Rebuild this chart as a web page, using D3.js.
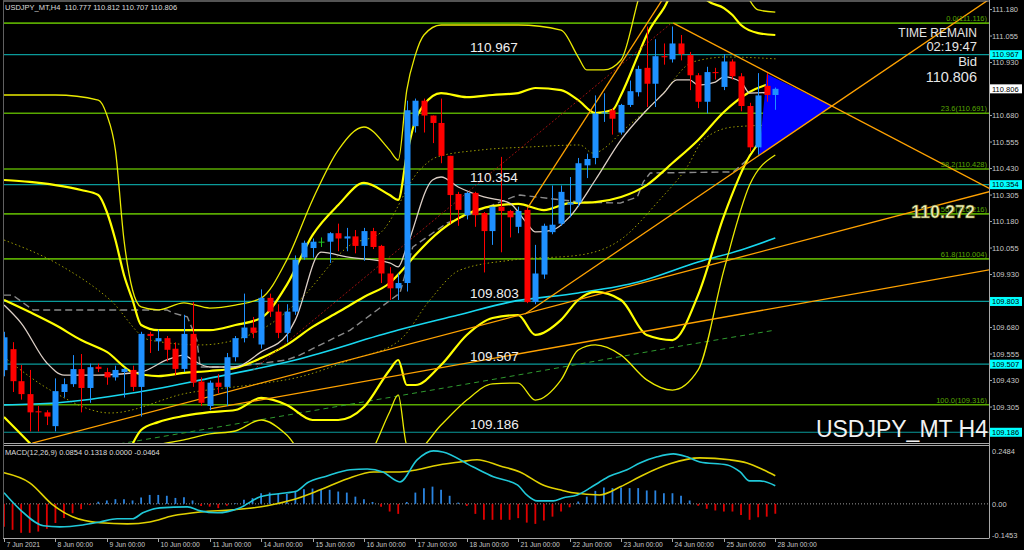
<!DOCTYPE html>
<html><head><meta charset="utf-8">
<script src="https://cdn.jsdelivr.net/npm/d3@7"></script>
<style>
html,body{margin:0;padding:0;background:#000;overflow:hidden}
svg{display:block}
text{font-family:"Liberation Sans",Arial,sans-serif}
</style></head><body>
<svg id="c" width="1024" height="550"></svg>
<script>
// ---------------- DATA ----------------
const dayLabels = ["7 Jun 2021","8 Jun 00:00","9 Jun 00:00","10 Jun 00:00","11 Jun 00:00","14 Jun 00:00","15 Jun 00:00","16 Jun 00:00","17 Jun 00:00","18 Jun 00:00","21 Jun 00:00","22 Jun 00:00","23 Jun 00:00","24 Jun 00:00","25 Jun 00:00","28 Jun 00:00"];
const opens  = [109.479,109.578,109.427,109.366,109.285,109.28,109.215,109.376,109.413,109.484,109.395,109.495,109.47,109.445,109.47,109.48,109.40,109.65,109.615,109.63,109.58,109.485,109.65,109.425,109.31,109.42,109.40,109.54,109.63,109.68,109.60,109.82,109.755,109.655,109.755,110.01,110.055,110.085,110.085,110.125,110.10,110.11,110.065,110.135,110.065,109.935,109.865,109.89,110.63,110.75,110.68,110.645,110.49,110.31,110.21,110.315,110.22,110.135,110.25,110.23,110.155,110.235,109.80,109.93,110.13,110.17,110.26,110.27,110.445,110.48,110.69,110.705,110.60,110.73,110.79,110.905,110.83,110.96,110.945,111.02,110.965,110.87,110.745,110.885,110.815,110.935,110.865,110.725,110.53,110.82,110.777];
const highs  = [109.66,109.611,109.503,109.48,109.31,109.29,109.44,109.44,109.55,109.555,109.51,109.51,109.49,109.50,109.49,109.50,109.66,109.66,109.67,109.64,109.61,109.74,109.80,109.445,109.43,109.46,109.56,109.64,109.84,109.73,109.86,109.84,109.79,109.79,110.02,110.09,110.10,110.105,110.13,110.17,110.15,110.14,110.15,110.15,110.07,109.965,109.935,110.75,110.76,110.76,110.68,110.76,110.49,110.32,110.32,110.32,110.225,110.25,110.485,110.235,110.25,110.245,110.07,110.17,110.35,110.35,110.39,110.48,110.50,110.775,110.785,110.715,110.735,110.845,110.915,111.10,111.04,111.02,111.10,111.06,110.98,110.88,110.91,110.905,110.97,110.945,110.88,110.74,110.88,110.88,110.812];
const lows   = [109.45,109.376,109.34,109.19,109.19,109.22,109.19,109.35,109.40,109.28,109.325,109.47,109.41,109.43,109.35,109.38,109.26,109.56,109.57,109.52,109.455,109.47,109.40,109.31,109.29,109.37,109.31,109.52,109.61,109.63,109.58,109.73,109.63,109.61,109.74,110.00,110.01,110.06,109.985,110.04,110.04,110.03,109.995,110.05,109.89,109.81,109.81,109.85,110.60,110.60,110.55,110.455,110.17,110.16,110.19,110.155,109.94,110.07,110.035,110.105,110.125,109.795,109.79,109.91,110.12,110.16,110.20,110.25,110.385,110.45,110.65,110.59,110.59,110.72,110.77,110.72,110.72,110.92,110.93,110.94,110.80,110.715,110.69,110.85,110.80,110.85,110.70,110.51,110.495,110.745,110.707];
const closes = [109.634,109.427,109.366,109.28,109.28,109.26,109.38,109.413,109.484,109.395,109.493,109.485,109.445,109.48,109.485,109.40,109.65,109.64,109.63,109.575,109.485,109.65,109.42,109.325,109.42,109.40,109.54,109.63,109.68,109.655,109.82,109.755,109.655,109.755,110.00,110.08,110.085,110.085,110.125,110.10,110.11,110.065,110.135,110.06,109.935,109.865,109.89,110.705,110.75,110.68,110.645,110.49,110.305,110.235,110.315,110.21,110.135,110.25,110.23,110.20,110.23,109.80,109.935,110.16,110.165,110.32,110.27,110.455,110.475,110.69,110.695,110.665,110.73,110.795,110.90,110.83,110.96,110.955,111.02,110.97,110.87,110.745,110.885,110.88,110.935,110.865,110.725,110.53,110.775,110.777,110.806];

// indicator lines: [bar, price]
const bbMid = [[0,109.810],[3,109.753],[6,109.692],[9,109.621],[12,109.565],[15,109.470],[18,109.451],[21,109.466],[24,109.475],[27,109.489],[30,109.536],[33,109.598],[36,109.683],[39,109.753],[42,109.824],[45,109.890],[47,109.975],[48,110.022],[51,110.140],[54,110.216],[57,110.253],[60,110.263],[63,110.234],[66,110.267],[69,110.272],[72,110.296],[75,110.352],[78,110.456],[81,110.565],[84,110.697],[87,110.791],[90,110.838]];
const bbUp2 = [[0,110.376],[3,110.367],[6,110.352],[9,110.329],[11,110.305],[12,110.225],[13,110.093],[14,109.928],[15,109.810],[16,109.692],[18,109.668],[21,109.668],[24,109.668],[27,109.692],[30,109.725],[33,109.881],[36,110.116],[39,110.258],[42,110.362],[45,110.305],[46,110.282],[47,110.494],[48,110.659],[49,110.730],[51,110.786],[54,110.767],[57,110.777],[60,110.786],[62,110.810],[65,110.800],[67,110.753],[69,110.692],[71,110.706],[72,110.777],[74,110.966],[75,111.060],[77,111.187],[79,111.319],[81,111.296],[82,111.225],[84,111.187],[85,111.154],[86,111.107],[88,111.069],[90,111.060]];
const bbLo2 = [[0,109.258],[3,109.135],[6,109.008],[11,108.961],[14,109.055],[16,109.197],[18,109.234],[21,109.263],[24,109.281],[27,109.291],[30,109.348],[33,109.315],[36,109.244],[39,109.244],[42,109.305],[45,109.480],[46,109.527],[47,109.409],[48,109.409],[51,109.503],[54,109.645],[57,109.725],[60,109.739],[62,109.645],[65,109.716],[67,109.810],[69,109.848],[72,109.810],[75,109.645],[78,109.621],[81,109.834],[84,110.206],[87,110.489],[90,110.612]];
const bbUp3 = [[0,110.777],[6,110.777],[11,110.753],[12,110.683],[13,110.517],[14,110.093],[15,109.857],[16,109.777],[18,109.763],[21,109.796],[24,109.772],[27,109.786],[30,109.819],[33,109.999],[36,110.282],[39,110.517],[42,110.626],[45,110.517],[46,110.470],[47,110.800],[48,110.966],[49,111.060],[51,111.107],[60,111.107],[65,111.083],[67,110.956],[68,110.895],[70,110.895],[72,110.942],[74,111.225],[75,111.367],[86,111.319],[87,111.225],[88,111.178],[90,111.168]];
const bbLo3 = [[0,108.84],[6,108.78],[12,108.72],[14,108.85],[16,109.093],[18,109.126],[21,109.150],[24,109.178],[27,109.192],[30,109.244],[33,109.173],[36,109.02],[39,108.99],[42,109.04],[45,109.282],[46,109.362],[47,109.125],[48,109.10],[51,109.220],[54,109.338],[57,109.414],[60,109.418],[62,109.338],[65,109.433],[67,109.574],[69,109.598],[72,109.550],[75,109.433],[78,109.385],[81,109.480],[84,109.951],[87,110.352],[90,110.494]];
const whiteMA = [[0,109.786],[2,109.701],[5,109.513],[7,109.456],[11,109.456],[15,109.466],[16,109.470],[19,109.527],[21,109.550],[22,109.527],[24,109.494],[27,109.494],[30,109.565],[33,109.645],[34,109.716],[37,110.036],[40,110.013],[45,109.985],[46,109.966],[47,110.061],[50,110.376],[51,110.390],[53,110.343],[56,110.296],[59,110.267],[61,110.173],[62,110.131],[64,110.140],[66,110.202],[69,110.376],[72,110.565],[75,110.706],[77,110.786],[78.5,110.848],[80,110.848],[81,110.824],[83,110.838],[84,110.862],[86,110.838],[87,110.786],[90,110.791]];
const cyanMA = [[0,109.315],[6,109.324],[15,109.371],[23,109.433],[34,109.527],[46,109.668],[53,109.739],[59,109.800],[67,109.843],[74,109.895],[81,109.989],[86,110.046],[90,110.102]];
const greenMA = [[0,109.04],[14,109.135],[34.5,109.277],[58,109.442],[81,109.607],[90,109.668]];
const dotUp = [[0,110.093],[6.5,109.975],[12.4,109.810],[17,109.621],[22.9,109.598],[29.9,109.668],[34.5,109.810],[40.4,110.069],[43.9,110.126],[48.5,110.423],[50.5,110.484],[55.5,110.517],[61.4,110.532],[67.2,110.541],[68.7,110.503],[72.7,110.626],[76.5,110.767],[80.4,110.933],[84.4,110.956],[90.2,110.947]];
const dotLo = [[0,109.541],[5.4,109.385],[12.4,109.277],[21.4,109.371],[28.7,109.409],[34.5,109.447],[40.4,109.527],[46.2,109.621],[49.7,109.810],[53.2,109.951],[59.4,109.999],[67.2,110.022],[71.9,110.093],[76.5,110.282],[79.7,110.437],[81.6,110.565],[85.1,110.626],[89.7,110.635]];
const greyStep = [[0,109.833],[1,109.833],[3.4,109.763],[19,109.763],[19.7,109.749],[21.4,109.730],[22.5,109.621],[22.9,109.494],[26.7,109.494],[33,109.527],[34.5,109.550],[40.4,109.668],[46.2,109.843],[47.7,110.060],[51.7,110.173],[59.4,110.296],[60.2,110.305],[67.2,110.272],[71.9,110.267],[73.9,110.296],[74.6,110.367],[75.4,110.409],[85.1,110.414],[86.7,110.470],[88.2,110.565],[90.2,110.635]];

// trend lines [bar, price] anchor pairs
const trendRays = [[[78.1,111.116],[96.6,110.725]],[[60.8,109.744],[96.6,110.725]],[[61.1,110.244],[76.8,111.225]],[[3.3,109.135],[114.8,110.319]],[[24,109.296],[114.8,109.951]]];
const redDotted = [[29.1,109.480],[77.9,111.117]];
const triangle = [[89.0,110.876],[96.6,110.725],[88.1,110.494]];

const fibPct = ["0.0","23.6","38.2","50.0","61.8","100.0"];
const fibPrice = [111.116,110.691,110.428,110.216,110.004,109.316];
const levels = [110.967,110.354,109.803,109.507,109.186];
const priceTicks = [111.180,111.055,110.930,110.680,110.555,110.430,110.305,110.180,110.055,109.930,109.680,109.555,109.430,109.305];
const macdTicks = ["0.2484","0.00","-0.1453"];
const macdTickVals = [0.2484,0,-0.1453];

const macdMain = [[0,0.052],[1.9,-0.028],[4.6,-0.103],[6.5,-0.108],[9.2,-0.099],[11.2,-0.085],[13.2,-0.070],[15,-0.070],[16.2,-0.042],[18.2,-0.019],[21.4,-0.014],[22.9,-0.033],[24.9,-0.042],[27.5,-0.019],[29.9,0.033],[33,0.052],[34.2,0.061],[35.4,0.099],[37.7,0.131],[40.4,0.160],[42.4,0.164],[44.2,0.150],[46.2,0.103],[48.2,0.207],[50.1,0.249],[51.2,0.244],[54.7,0.174],[57.1,0.127],[59.9,0.089],[61,0.042],[62.2,0.014],[64.1,0.014],[65.2,0.028],[66.9,0.042],[68.4,0.075],[69.5,0.103],[70.7,0.131],[72.7,0.160],[74.2,0.192],[76.2,0.221],[78.1,0.235],[79.7,0.221],[81.2,0.197],[84.4,0.183],[85.9,0.150],[87,0.108],[88.2,0.108],[90,0.0854]];
const macdSignal = [[0,0.146],[3,0.099],[5.7,-0.005],[8,-0.061],[11.2,-0.089],[14.4,-0.094],[17,-0.085],[19.7,-0.056],[22.9,-0.038],[26.7,-0.028],[30.7,-0.009],[33.7,0.019],[36.9,0.066],[40,0.117],[43.1,0.150],[46.2,0.150],[48.2,0.160],[50.1,0.178],[53.2,0.197],[55.2,0.207],[57.9,0.178],[60.2,0.150],[62.9,0.089],[64.9,0.066],[66.4,0.052],[69.5,0.042],[71.9,0.080],[74.6,0.136],[77.7,0.188],[81.2,0.216],[84.7,0.207],[86.7,0.192],[88.6,0.160],[90,0.1318]];
const macdHist = [-0.108,-0.122,-0.136,-0.136,-0.130,-0.117,-0.090,-0.066,-0.044,-0.025,-0.006,0.010,0.016,0.022,0.022,0.016,0.030,0.042,0.042,0.038,0.028,0.031,0.016,-0.010,-0.013,-0.020,-0.009,0.003,0.019,0.027,0.050,0.053,0.047,0.047,0.058,0.069,0.072,0.069,0.066,0.058,0.053,0.034,0.022,0.009,-0.013,-0.036,-0.047,0.009,0.053,0.073,0.081,0.066,0.038,0.006,-0.010,-0.047,-0.075,-0.075,-0.075,-0.075,-0.067,-0.088,-0.094,-0.078,-0.060,-0.036,-0.016,0.011,0.034,0.061,0.077,0.074,0.077,0.074,0.074,0.063,0.063,0.050,0.050,0.038,0.016,-0.009,-0.023,-0.031,-0.036,-0.036,-0.052,-0.075,-0.063,-0.060,-0.0464];

// ---------------- DRAW ----------------
const svg = d3.select('#c');
svg.append('rect').attr('width',1024).attr('height',550).attr('fill','#000');
const L=3, R=989, T=1, B=443, MT=445, MB=538;
const x = d3.scaleLinear().domain([0,90]).range([4,775.3]);
const y = d3.scaleLinear().domain([111.225,109.1354]).range([0,443]);
const ym = d3.scaleLinear().domain([0.2484,-0.1453]).range([451,534.8]);

const defs = svg.append('defs');
defs.append('clipPath').attr('id','cm').append('rect').attr('x',L).attr('y',T).attr('width',R-L).attr('height',B-T);
defs.append('clipPath').attr('id','cd').append('rect').attr('x',L).attr('y',MT).attr('width',R-L).attr('height',MB-MT);
const gm = svg.append('g').attr('clip-path','url(#cm)');
const gd = svg.append('g').attr('clip-path','url(#cd)');

// horizontal levels
const fibColor = '#58a800';
fibPrice.forEach(p=>{
  gm.append('line').attr('x1',L).attr('x2',R).attr('y1',y(p)).attr('y2',y(p)).attr('stroke',fibColor).attr('stroke-width',1.6);
});
levels.forEach(p=>{
  gm.append('line').attr('x1',L).attr('x2',R).attr('y1',y(p)).attr('y2',y(p)).attr('stroke','#0a9a9a').attr('stroke-width',1.2);
});

const lineP = (c)=>d3.line().x(d=>x(d[0])).y(d=>y(d[1])).curve(c||d3.curveMonotoneX);
function drawLine(data,color,w,dash,curve){
  const p = gm.append('path').attr('d',lineP(curve)(data)).attr('fill','none').attr('stroke',color).attr('stroke-width',w).attr('stroke-linejoin','round');
  if(dash) p.attr('stroke-dasharray',dash);
}
drawLine(greenMA,'#2f9a2f',1,'5,4');
drawLine(dotUp,'#9a9a00',1,'1.5,2.5');
drawLine(dotLo,'#9a9a00',1,'1.5,2.5');
drawLine(greyStep,'#8a8a8a',1.4,'7,4',d3.curveLinear);
drawLine(cyanMA,'#18d8f0',1.6);
drawLine(bbUp3,'#eaea00',1.3);
drawLine(bbLo3,'#eaea00',1.3);
drawLine(bbUp2,'#ffff00',2.2);
drawLine(bbLo2,'#ffff00',2.2);
drawLine(bbMid,'#ffff00',2.2);
drawLine(whiteMA,'#dccfc6',1.3);

// red dotted trend
gm.append('line').attr('x1',x(redDotted[0][0])).attr('y1',y(redDotted[0][1])).attr('x2',x(redDotted[1][0])).attr('y2',y(redDotted[1][1]))
  .attr('stroke','#9a1010').attr('stroke-width',1).attr('stroke-dasharray','2,2');

// triangle
gm.append('polygon').attr('points',triangle.map(d=>x(d[0])+','+y(d[1])).join(' ')).attr('fill','#0000ff');

// orange rays
const bEnd = x.invert(R+2);
trendRays.forEach(t=>{
  const [a,b]=t;
  const pe = a[1]+(b[1]-a[1])*(bEnd-a[0])/(b[0]-a[0]);
  gm.append('line').attr('x1',x(a[0])).attr('y1',y(a[1])).attr('x2',x(bEnd)).attr('y2',y(pe))
    .attr('stroke','#ffa200').attr('stroke-width',1.3);
});

// candles
const bull='#1e90ff', bear='#ff0000', doji='#20c020';
opens.forEach((o,i)=>{
  const c=closes[i];
  const col = Math.abs(c-o)<0.0005 ? doji : (c>o?bull:bear);
  const cx = Math.round(x(i))+0.5;
  gm.append('line').attr('x1',cx).attr('x2',cx).attr('y1',y(highs[i])).attr('y2',y(lows[i])).attr('stroke',col).attr('stroke-width',1);
  const top=y(Math.max(o,c)), bot=y(Math.min(o,c));
  gm.append('rect').attr('x',cx-3).attr('y',top).attr('width',6).attr('height',Math.max(1,bot-top)).attr('fill',col);
});

// texts on main chart
levels.forEach((p,i)=>{
  gm.append('text').attr('x',470).attr('y',y(p)-3).attr('fill','#f0f0f0').attr('font-size',13.5).text(p.toFixed(3));
});
fibPrice.forEach((p,i)=>{
  gm.append('text').attr('x',987).attr('y',y(p)-2).attr('text-anchor','end').attr('fill',fibColor).attr('font-size',7.5)
    .text(fibPct[i]+'('+p.toFixed(3)+')');
});
gm.append('text').attr('x',975).attr('y',218).attr('text-anchor','end').attr('fill','#f4f4bc').attr('font-size',18).attr('font-weight','bold')
  .attr('stroke','#6a6a20').attr('stroke-width',0.6).text('110.272');
const tr = [['TIME REMAIN',12,36.5],['02:19:47',13,51],['Bid',13,66],['110.806',14.5,82]];
tr.forEach(t=>{
  gm.append('text').attr('x',977).attr('y',t[2]).attr('text-anchor','end').attr('fill','#e6e6e6').attr('font-size',t[1]).text(t[0]);
});
svg.append('text').attr('x',5).attr('y',10).attr('fill','#dcdcdc').attr('font-size',7.5).style('white-space','pre')
  .text('USDJPY_MT,H4  110.777 110.812 110.707 110.806');

// MACD panel
gd.append('line').attr('x1',L).attr('x2',R).attr('y1',ym(0)).attr('y2',ym(0)).attr('stroke','#9a9a9a').attr('stroke-dasharray','1,2');
macdHist.forEach((h,i)=>{
  gd.append('line').attr('x1',x(i)).attr('x2',x(i)).attr('y1',ym(0)).attr('y2',ym(h))
    .attr('stroke',h>=0?'#2a84e0':'#e00000').attr('stroke-width',1.8);
});
const lineM = d3.line().x(d=>x(d[0])).y(d=>ym(d[1])).curve(d3.curveMonotoneX);
gd.append('path').attr('d',lineM(macdSignal)).attr('fill','none').attr('stroke','#e0d000').attr('stroke-width',1.6);
gd.append('path').attr('d',lineM(macdMain)).attr('fill','none').attr('stroke','#20c8d8').attr('stroke-width',1.6);
svg.append('text').attr('x',5).attr('y',455).attr('fill','#dcdcdc').attr('font-size',7.5).text('MACD(12,26,9) 0.0854 0.1318 0.0000 -0.0464');

// frames
const frame='#a8a8a8';
svg.append('line').attr('x1',L).attr('x2',R).attr('y1',T).attr('y2',T).attr('stroke',frame);
svg.append('line').attr('x1',L).attr('x2',R).attr('y1',B+0.5).attr('y2',B+0.5).attr('stroke',frame);
svg.append('line').attr('x1',L).attr('x2',R).attr('y1',MT+0.5).attr('y2',MT+0.5).attr('stroke',frame);
svg.append('line').attr('x1',L).attr('x2',R).attr('y1',MB+0.5).attr('y2',MB+0.5).attr('stroke',frame);
svg.append('line').attr('x1',L+0.5).attr('x2',L+0.5).attr('y1',T).attr('y2',MB).attr('stroke','#606060');
svg.append('line').attr('x1',R+0.5).attr('x2',R+0.5).attr('y1',0).attr('y2',MB+0.5).attr('stroke',frame);

// symbol caption (after frames so the underscore stays visible)
svg.append('text').attr('x',988).attr('y',437).attr('text-anchor','end').attr('fill','#f2f2f2').attr('font-size',23).text('USDJPY_MT H4');

// right axis
const ax = svg.append('g');
priceTicks.forEach(p=>{
  ax.append('line').attr('x1',R).attr('x2',R+3).attr('y1',y(p)).attr('y2',y(p)).attr('stroke',frame);
  ax.append('text').attr('x',992).attr('y',y(p)+2.7).attr('fill','#c8c8c8').attr('font-size',7.5).text(p.toFixed(3));
});
function box(p,bg){
  ax.append('rect').attr('x',990).attr('y',y(p)-4.5).attr('width',32).attr('height',9).attr('fill',bg);
  ax.append('text').attr('x',992).attr('y',y(p)+2.7).attr('fill','#000').attr('font-size',7.5).text(p.toFixed(3));
}
levels.forEach(p=>box(p,'#00ffff'));
box(110.806,'#ffffff');
macdTickVals.forEach((v,i)=>{
  ax.append('text').attr('x',992).attr('y',ym(v)+2.7).attr('fill','#c8c8c8').attr('font-size',7.5).text(macdTicks[i]);
});

// bottom axis
dayLabels.forEach((t,i)=>{
  const tx = Math.round(x(i*6))+0.5;
  ax.append('line').attr('x1',tx).attr('x2',tx).attr('y1',MB).attr('y2',MB+4).attr('stroke',frame);
  ax.append('text').attr('x',tx+2).attr('y',547).attr('fill','#c8c8c8').attr('font-size',6.8).text(t);
});
</script>
</body></html>
